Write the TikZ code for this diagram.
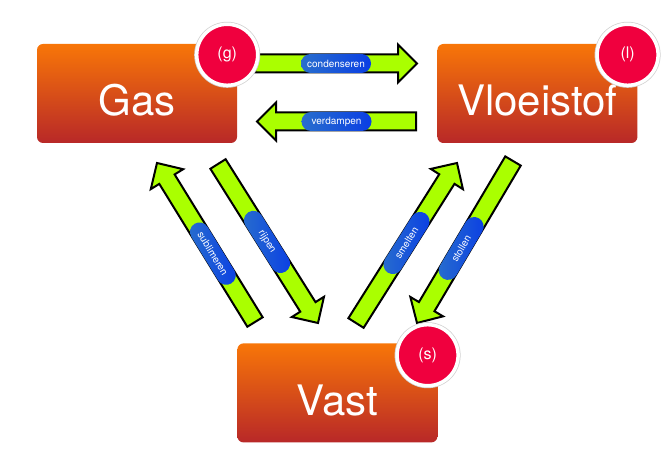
\documentclass[tikz,border=0pt]{standalone}
\usepackage{fontspec}
\setmainfont{TeX Gyre Heros}
\usetikzlibrary{positioning,calc}

\definecolor{boxtop}{RGB}{248,118,8}
\definecolor{boxbot}{RGB}{184,40,40}
\definecolor{badgered}{RGB}{240,0,62}
\definecolor{lime}{RGB}{170,255,0}
\definecolor{pilla}{RGB}{40,110,205}
\definecolor{pillb}{RGB}{10,62,228}

\tikzset{
  phase/.style={rectangle, rounded corners=6pt, minimum width=200pt, minimum height=99pt,
    top color=boxtop, bottom color=boxbot, text=white, inner sep=0pt,
    font=\fontsize{42}{42}\selectfont, text height=45pt, text depth=0pt},
  badge/.style={circle, fill=badgered, draw=white, line width=3.5pt, minimum size=61pt,
    inner sep=0pt, text=white, font=\fontsize{16}{16}\selectfont,
    preaction={draw=black!18, line width=5pt}},
  fat/.style={draw=black, line width=2pt, fill=lime},
  pill/.style={rectangle, rounded corners=9.5pt, minimum width=70pt, minimum height=19pt,
    inner sep=0pt, left color=pilla, right color=pillb, text=white,
    font=\fontsize{10}{10}\selectfont},
}

% fat arrow from tail #1 to tip #2
\newcommand{\fatarrow}[2]{%
  \coordinate (fb) at ($(#2)!19pt!(#1)$);
  \draw[fat] ($(#1)!9pt!90:(#2)$) -- ($(fb)!9pt!-90:(#1)$) -- ($(fb)!19pt!-90:(#1)$)
    -- (#2) -- ($(fb)!19pt!90:(#1)$) -- ($(fb)!9pt!90:(#1)$) -- ($(#1)!9pt!-90:(#2)$) -- cycle;
}

\begin{document}
\begin{tikzpicture}[x=1pt, y=1pt]
  \useasboundingbox (0,0) rectangle (671,454);

  % phases
  \node[phase] (gas) at (137,360.5) {Gas};
  \node[phase, right=200pt of gas] (vloeistof) {Vloeistof};
  \node[phase, below right=200pt and 0pt of gas] (vast) {Vast};

  % arrow ends
  \coordinate (ct) at (255,390.5);
  \coordinate (ch) at (417,390.5);
  \coordinate (vt) at (416,332.5);
  \coordinate (vh) at (257,332.5);
  \coordinate (st) at (255,132);
  \coordinate (sh) at (157,291);
  \coordinate (rt) at (218,290);
  \coordinate (rh) at (318,131);
  \coordinate (mt) at (356,131);
  \coordinate (mh) at (457,291);
  \coordinate (lt) at (513,293);
  \coordinate (lh) at (417,131);

  \fatarrow{ct}{ch}
  \fatarrow{vt}{vh}
  \fatarrow{st}{sh}
  \fatarrow{rt}{rh}
  \fatarrow{mt}{mh}
  \fatarrow{lt}{lh}

  % labels
  \path (ct) -- node[pill, sloped] {condenseren} (ch);
  \path (vt) -- node[pill, sloped] {verdampen} (vh);
  \path (st) -- node[pill, sloped, pos=.43] {sublimeren} (sh);
  \path (rt) -- node[pill, sloped, pos=.49] {rijpen} (rh);
  \path (mt) -- node[pill, sloped] {smelten} (mh);
  \path (lt) -- node[pill, sloped, pos=.54] {stollen} (lh);

  % badges
  \node[badge] (g) at ($(gas.north east)+(-10,-11)$) {(g)};
  \node[badge] (l) at ($(vloeistof.north east)+(-10,-11)$) {(l)};
  \node[badge] (s) at ($(vast.north east)+(-10,-12)$) {(s)};
\end{tikzpicture}
\end{document}
